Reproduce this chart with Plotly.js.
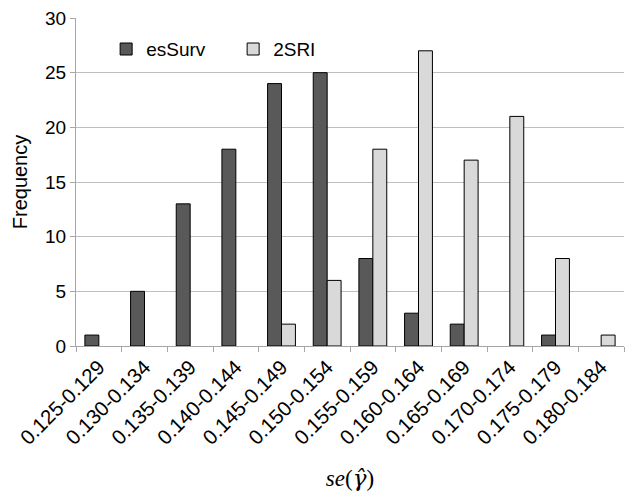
<!DOCTYPE html>
<html>
<head>
<meta charset="utf-8">
<script src="https://cdn.plot.ly/plotly-3.0.1.min.js"></script>
<style>
  html, body { margin: 0; padding: 0; background: #fff; }
  #chart { width: 634px; height: 498px; }
</style>
</head>
<body>
<div id="chart"></div>
<script>
// categorie (intervalli di se(gamma hat))
const categorie = ['0.125-0.129', '0.130-0.134', '0.135-0.139', '0.140-0.144',
  '0.145-0.149', '0.150-0.154', '0.155-0.159', '0.160-0.164',
  '0.165-0.169', '0.170-0.174', '0.175-0.179', '0.180-0.184'];
// frequenze per metodo
const esSurv = [1, 5, 13, 18, 24, 25, 8, 3, 2, 0, 1, 0];
const sri2 = [0, 0, 0, 0, 2, 6, 18, 27, 17, 21, 8, 1];
const yTicks = [0, 5, 10, 15, 20, 25, 30];

// le barre a zero non si disegnano (come in Excel)
const senzaZeri = arr => arr.map(v => v === 0 ? null : v);

const traces = [
  {
    x: categorie, y: senzaZeri(esSurv), type: 'bar', name: 'esSurv',
    marker: { color: '#595959', line: { color: '#000', width: 1 } }
  },
  {
    x: categorie, y: senzaZeri(sri2), type: 'bar', name: '2SRI',
    marker: { color: '#d9d9d9', line: { color: '#000', width: 1 } }
  }
];

const layout = {
  width: 634, height: 498,
  margin: { l: 76, r: 10, t: 18, b: 152 },
  paper_bgcolor: '#fff', plot_bgcolor: '#fff',
  font: { family: 'Liberation Sans, Arial, sans-serif', color: '#000' },
  barmode: 'group', bargap: 0.39, bargroupgap: 0,
  showlegend: true,
  legend: {
    orientation: 'h', x: 0.055, y: 0.905, xanchor: 'left', yanchor: 'middle',
    font: { size: 19 }, entrywidth: 82, bgcolor: 'rgba(0,0,0,0)'
  },
  xaxis: {
    type: 'category', tickson: 'boundaries', ticks: 'outside', ticklen: 5,
    tickcolor: '#a6a6a6', showline: true, linecolor: '#a6a6a6', showgrid: false,
    tickangle: -45, tickfont: { size: 20.5 },
    title: {
      text: '<i>se</i>(<span style="font-family:DejaVu Serif"><i>γ̂</i></span>)',
      font: { family: 'Liberation Serif, Times New Roman, serif', size: 23 }, standoff: 22
    }
  },
  yaxis: {
    range: [0, 30], tickvals: yTicks, ticks: 'outside', ticklen: 5, tickcolor: '#a6a6a6',
    showline: true, linecolor: '#a6a6a6', showgrid: true, gridcolor: '#bfbfbf',
    zeroline: false, tickfont: { size: 19 },
    title: { text: 'Frequency', font: { size: 20 }, standoff: 12 }
  }
};

Plotly.newPlot('chart', traces, layout, { displayModeBar: false });
</script>
</body>
</html>
